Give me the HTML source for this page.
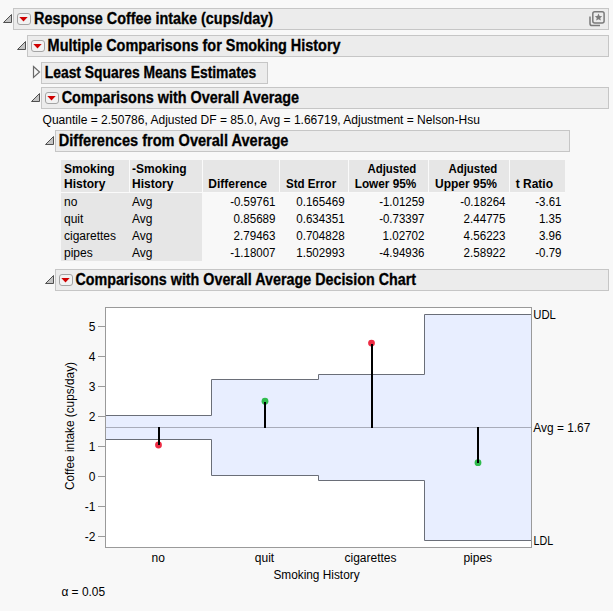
<!DOCTYPE html>
<html><head><meta charset="utf-8"><style>
html,body{margin:0;padding:0;background:#f8f8f8;width:613px;height:611px;overflow:hidden}
svg{display:block;font-family:"Liberation Sans", sans-serif}
</style></head><body>
<svg width="613" height="611" viewBox="0 0 613 611" >
<rect shape-rendering="crispEdges" x="0" y="0" width="613" height="611" fill="#f8f8f8"/>
<rect shape-rendering="crispEdges" x="13.5" y="8.5" width="595" height="21" fill="#ececec" stroke="#c6c6c6" stroke-width="1"/>
<path d="M3.5 22.5 L11.5 14.5 L11.5 22.5 Z" fill="#c4c4c4" stroke="#505050" stroke-width="1" stroke-linejoin="miter"/>
<rect rx="2.5" x="17.5" y="13.5" width="13" height="11" fill="#f2f2f2" stroke="#a4a4a4" stroke-width="1"/>
<path d="M19.3 16.9 L27.7 16.9 L23.5 21.4 Z" fill="#d00000"/>
<text x="34" y="23.6" font-size="15.6" font-weight="bold" stroke="#000" stroke-width="0.3" textLength="239" lengthAdjust="spacingAndGlyphs" fill="#000">Response Coffee intake (cups/day)</text>
<g fill="none" stroke="#7a7a7a" stroke-width="1.5"><rect rx="2" x="592.8" y="11.8" width="11.3" height="11.3"/><path d="M590 16.5 V23.5 Q590 25.6 592 25.6 H600"/></g>
<path d="M598.5 13.6 L599.6 16.1 L602.2 16.3 L600.2 18 L600.9 20.6 L598.5 19.2 L596.1 20.6 L596.8 18 L594.8 16.3 L597.4 16.1 Z" fill="#7a7a7a"/>
<rect shape-rendering="crispEdges" x="27.5" y="35.5" width="581" height="21" fill="#ececec" stroke="#c6c6c6" stroke-width="1"/>
<path d="M17.5 49.5 L25.5 41.5 L25.5 49.5 Z" fill="#c4c4c4" stroke="#505050" stroke-width="1" stroke-linejoin="miter"/>
<rect rx="2.5" x="31.5" y="40.5" width="13" height="11" fill="#f2f2f2" stroke="#a4a4a4" stroke-width="1"/>
<path d="M33.3 43.9 L41.7 43.9 L37.5 48.4 Z" fill="#d00000"/>
<text x="47.6" y="50.6" font-size="15.6" font-weight="bold" stroke="#000" stroke-width="0.3" textLength="293" lengthAdjust="spacingAndGlyphs" fill="#000">Multiple Comparisons for Smoking History</text>
<rect shape-rendering="crispEdges" x="41.5" y="62.5" width="226" height="21" fill="#ececec" stroke="#c6c6c6" stroke-width="1"/>
<path d="M33.5 66.5 L39.5 72 L33.5 77.5 Z" fill="none" stroke="#6a6a6a" stroke-width="1.2" stroke-linejoin="miter"/>
<text x="44.7" y="77.6" font-size="15.6" font-weight="bold" stroke="#000" stroke-width="0.3" textLength="211.6" lengthAdjust="spacingAndGlyphs" fill="#000">Least Squares Means Estimates</text>
<rect shape-rendering="crispEdges" x="41.5" y="87.5" width="567" height="21" fill="#ececec" stroke="#c6c6c6" stroke-width="1"/>
<path d="M31.5 101.5 L39.5 93.5 L39.5 101.5 Z" fill="#c4c4c4" stroke="#505050" stroke-width="1" stroke-linejoin="miter"/>
<rect rx="2.5" x="45.5" y="92.5" width="13" height="11" fill="#f2f2f2" stroke="#a4a4a4" stroke-width="1"/>
<path d="M47.3 95.9 L55.7 95.9 L51.5 100.4 Z" fill="#d00000"/>
<text x="61.7" y="102.6" font-size="15.6" font-weight="bold" stroke="#000" stroke-width="0.3" textLength="237.4" lengthAdjust="spacingAndGlyphs" fill="#000">Comparisons with Overall Average</text>
<text x="42.6" y="124" font-size="12" textLength="437.3" lengthAdjust="spacingAndGlyphs" fill="#000">Quantile = 2.50786, Adjusted DF = 85.0, Avg = 1.66719, Adjustment = Nelson-Hsu</text>
<rect shape-rendering="crispEdges" x="55.5" y="130.5" width="514" height="21" fill="#ececec" stroke="#c6c6c6" stroke-width="1"/>
<path d="M45.5 144.5 L53.5 136.5 L53.5 144.5 Z" fill="#c4c4c4" stroke="#505050" stroke-width="1" stroke-linejoin="miter"/>
<text x="58.8" y="145.8" font-size="15.6" font-weight="bold" stroke="#000" stroke-width="0.3" textLength="229.6" lengthAdjust="spacingAndGlyphs" fill="#000">Differences from Overall Average</text>
<rect shape-rendering="crispEdges" x="61" y="160" width="504" height="32" fill="#e6e6e6"/>
<rect shape-rendering="crispEdges" x="61" y="193" width="141" height="68" fill="#e6e6e6"/>
<rect shape-rendering="crispEdges" x="129" y="160" width="1" height="32" fill="#fafafa"/>
<rect shape-rendering="crispEdges" x="202" y="160" width="1" height="32" fill="#fafafa"/>
<rect shape-rendering="crispEdges" x="279" y="160" width="1" height="32" fill="#fafafa"/>
<rect shape-rendering="crispEdges" x="348" y="160" width="1" height="32" fill="#fafafa"/>
<rect shape-rendering="crispEdges" x="428" y="160" width="1" height="32" fill="#fafafa"/>
<rect shape-rendering="crispEdges" x="509" y="160" width="1" height="32" fill="#fafafa"/>
<rect shape-rendering="crispEdges" x="61" y="192" width="504" height="1" fill="#fafafa"/>
<text x="64" y="172.7" font-size="12" font-weight="bold" fill="#000">Smoking</text>
<text x="64" y="188.3" font-size="12" font-weight="bold" fill="#000">History</text>
<text x="132" y="172.7" font-size="12" font-weight="bold" fill="#000">-Smoking</text>
<text x="132" y="188.3" font-size="12" font-weight="bold" fill="#000">History</text>
<text x="267" y="188.3" font-size="12" font-weight="bold" text-anchor="end" fill="#000">Difference</text>
<text x="336.2" y="188.3" font-size="12" font-weight="bold" text-anchor="end" textLength="50.2" lengthAdjust="spacingAndGlyphs" fill="#000">Std Error</text>
<text x="416.3" y="172.7" font-size="12" font-weight="bold" text-anchor="end" textLength="48.8" lengthAdjust="spacingAndGlyphs" fill="#000">Adjusted</text>
<text x="416.3" y="188.3" font-size="12" font-weight="bold" text-anchor="end" textLength="61.6" lengthAdjust="spacingAndGlyphs" fill="#000">Lower 95%</text>
<text x="497.3" y="172.7" font-size="12" font-weight="bold" text-anchor="end" textLength="48.8" lengthAdjust="spacingAndGlyphs" fill="#000">Adjusted</text>
<text x="497" y="188.3" font-size="12" font-weight="bold" text-anchor="end" fill="#000">Upper 95%</text>
<text x="553" y="188.3" font-size="12" font-weight="bold" text-anchor="end" fill="#000">t Ratio</text>
<text x="64" y="205.8" font-size="12" fill="#000">no</text>
<text x="132" y="205.8" font-size="12" fill="#000">Avg</text>
<text x="275.5" y="205.8" font-size="12" text-anchor="end" textLength="45.37" lengthAdjust="spacingAndGlyphs" fill="#000">-0.59761</text>
<text x="344.6" y="205.8" font-size="12" text-anchor="end" textLength="48.38" lengthAdjust="spacingAndGlyphs" fill="#000">0.165469</text>
<text x="424.5" y="205.8" font-size="12" text-anchor="end" textLength="45.37" lengthAdjust="spacingAndGlyphs" fill="#000">-1.01259</text>
<text x="505.5" y="205.8" font-size="12" text-anchor="end" textLength="45.37" lengthAdjust="spacingAndGlyphs" fill="#000">-0.18264</text>
<text x="561.5" y="205.8" font-size="12" text-anchor="end" textLength="26.2" lengthAdjust="spacingAndGlyphs" fill="#000">-3.61</text>
<text x="64" y="222.75" font-size="12" fill="#000">quit</text>
<text x="132" y="222.75" font-size="12" fill="#000">Avg</text>
<text x="275.5" y="222.75" font-size="12" text-anchor="end" textLength="41.93" lengthAdjust="spacingAndGlyphs" fill="#000">0.85689</text>
<text x="344.6" y="222.75" font-size="12" text-anchor="end" textLength="48.38" lengthAdjust="spacingAndGlyphs" fill="#000">0.634351</text>
<text x="424.5" y="222.75" font-size="12" text-anchor="end" textLength="45.37" lengthAdjust="spacingAndGlyphs" fill="#000">-0.73397</text>
<text x="505.5" y="222.75" font-size="12" text-anchor="end" textLength="41.93" lengthAdjust="spacingAndGlyphs" fill="#000">2.44775</text>
<text x="561.5" y="222.75" font-size="12" text-anchor="end" textLength="22.57" lengthAdjust="spacingAndGlyphs" fill="#000">1.35</text>
<text x="64" y="239.7" font-size="12" fill="#000">cigarettes</text>
<text x="132" y="239.7" font-size="12" fill="#000">Avg</text>
<text x="275.5" y="239.7" font-size="12" text-anchor="end" textLength="41.93" lengthAdjust="spacingAndGlyphs" fill="#000">2.79463</text>
<text x="344.6" y="239.7" font-size="12" text-anchor="end" textLength="48.38" lengthAdjust="spacingAndGlyphs" fill="#000">0.704828</text>
<text x="424.5" y="239.7" font-size="12" text-anchor="end" textLength="41.93" lengthAdjust="spacingAndGlyphs" fill="#000">1.02702</text>
<text x="505.5" y="239.7" font-size="12" text-anchor="end" textLength="41.93" lengthAdjust="spacingAndGlyphs" fill="#000">4.56223</text>
<text x="561.5" y="239.7" font-size="12" text-anchor="end" textLength="22.57" lengthAdjust="spacingAndGlyphs" fill="#000">3.96</text>
<text x="64" y="256.65" font-size="12" fill="#000">pipes</text>
<text x="132" y="256.65" font-size="12" fill="#000">Avg</text>
<text x="275.5" y="256.65" font-size="12" text-anchor="end" textLength="45.37" lengthAdjust="spacingAndGlyphs" fill="#000">-1.18007</text>
<text x="344.6" y="256.65" font-size="12" text-anchor="end" textLength="48.38" lengthAdjust="spacingAndGlyphs" fill="#000">1.502993</text>
<text x="424.5" y="256.65" font-size="12" text-anchor="end" textLength="45.37" lengthAdjust="spacingAndGlyphs" fill="#000">-4.94936</text>
<text x="505.5" y="256.65" font-size="12" text-anchor="end" textLength="41.93" lengthAdjust="spacingAndGlyphs" fill="#000">2.58922</text>
<text x="561.5" y="256.65" font-size="12" text-anchor="end" textLength="26.2" lengthAdjust="spacingAndGlyphs" fill="#000">-0.79</text>
<rect shape-rendering="crispEdges" x="55.5" y="269.5" width="553" height="21" fill="#ececec" stroke="#c6c6c6" stroke-width="1"/>
<path d="M45.5 283.5 L53.5 275.5 L53.5 283.5 Z" fill="#c4c4c4" stroke="#505050" stroke-width="1" stroke-linejoin="miter"/>
<rect rx="2.5" x="59.5" y="274.5" width="13" height="11" fill="#f2f2f2" stroke="#a4a4a4" stroke-width="1"/>
<path d="M61.3 277.9 L69.7 277.9 L65.5 282.4 Z" fill="#d00000"/>
<text x="75.4" y="284.6" font-size="15.6" font-weight="bold" stroke="#000" stroke-width="0.3" textLength="340.7" lengthAdjust="spacingAndGlyphs" fill="#000">Comparisons with Overall Average Decision Chart</text>
<rect shape-rendering="crispEdges" x="105.5" y="307.5" width="426" height="240" fill="#ffffff" stroke="#9a9a9a" stroke-width="1"/>
<rect shape-rendering="crispEdges" x="105.5" y="415.5" width="106.0" height="24" fill="#e8eeff"/>
<rect shape-rendering="crispEdges" x="211.5" y="379.5" width="107.0" height="96" fill="#e8eeff"/>
<rect shape-rendering="crispEdges" x="318.5" y="374.5" width="106.0" height="106" fill="#e8eeff"/>
<rect shape-rendering="crispEdges" x="424.5" y="314.5" width="106.5" height="226" fill="#e8eeff"/>
<path d="M105.5 415.5 H211.5 V379.5 H318.5 V374.5 H424.5 V314.5 H531" fill="none" stroke="#6a6e78" stroke-width="1"/>
<path d="M105.5 439.5 H211.5 V475.5 H318.5 V480.5 H424.5 V540.5 H531" fill="none" stroke="#6a6e78" stroke-width="1"/>
<rect shape-rendering="crispEdges" x="106" y="427" width="425" height="1" fill="#a8acba"/>
<rect shape-rendering="crispEdges" x="105.5" y="307.5" width="426" height="240" fill="none" stroke="#9a9a9a" stroke-width="1"/>
<rect shape-rendering="crispEdges" x="98" y="536" width="7" height="1" fill="#9a9a9a"/>
<text x="95.5" y="540.6" font-size="12" text-anchor="end" fill="#000">-2</text>
<rect shape-rendering="crispEdges" x="98" y="506" width="7" height="1" fill="#9a9a9a"/>
<text x="95.5" y="510.6" font-size="12" text-anchor="end" fill="#000">-1</text>
<rect shape-rendering="crispEdges" x="98" y="476" width="7" height="1" fill="#9a9a9a"/>
<text x="95.5" y="480.6" font-size="12" text-anchor="end" fill="#000">0</text>
<rect shape-rendering="crispEdges" x="98" y="446" width="7" height="1" fill="#9a9a9a"/>
<text x="95.5" y="450.6" font-size="12" text-anchor="end" fill="#000">1</text>
<rect shape-rendering="crispEdges" x="98" y="416" width="7" height="1" fill="#9a9a9a"/>
<text x="95.5" y="420.6" font-size="12" text-anchor="end" fill="#000">2</text>
<rect shape-rendering="crispEdges" x="98" y="386" width="7" height="1" fill="#9a9a9a"/>
<text x="95.5" y="390.6" font-size="12" text-anchor="end" fill="#000">3</text>
<rect shape-rendering="crispEdges" x="98" y="356" width="7" height="1" fill="#9a9a9a"/>
<text x="95.5" y="360.6" font-size="12" text-anchor="end" fill="#000">4</text>
<rect shape-rendering="crispEdges" x="98" y="326" width="7" height="1" fill="#9a9a9a"/>
<text x="95.5" y="330.6" font-size="12" text-anchor="end" fill="#000">5</text>
<circle cx="158.5" cy="445" r="3.4" fill="#ee2c44"/>
<rect shape-rendering="crispEdges" x="157.5" y="427" width="2" height="18" fill="#000"/>
<circle cx="265" cy="401.2" r="3.4" fill="#30bc4e"/>
<rect shape-rendering="crispEdges" x="264" y="402" width="2" height="26" fill="#000"/>
<circle cx="371.5" cy="343.1" r="3.4" fill="#ee2c44"/>
<rect shape-rendering="crispEdges" x="370.5" y="344" width="2" height="84" fill="#000"/>
<circle cx="478" cy="462.7" r="3.4" fill="#30bc4e"/>
<rect shape-rendering="crispEdges" x="477" y="427" width="2" height="36" fill="#000"/>
<text x="533.3" y="319" font-size="12" textLength="22.6" lengthAdjust="spacingAndGlyphs" fill="#000">UDL</text>
<text x="533.3" y="431.5" font-size="12" textLength="57" lengthAdjust="spacingAndGlyphs" fill="#000">Avg = 1.67</text>
<text x="533.6" y="545.2" font-size="12" textLength="19.6" lengthAdjust="spacingAndGlyphs" fill="#000">LDL</text>
<text x="158.25" y="562" font-size="12" text-anchor="middle" fill="#000">no</text>
<text x="264.5" y="562" font-size="12" text-anchor="middle" fill="#000">quit</text>
<text x="370.5" y="562" font-size="12" text-anchor="middle" fill="#000">cigarettes</text>
<text x="477.75" y="562" font-size="12" text-anchor="middle" fill="#000">pipes</text>
<text x="273.4" y="578.8" font-size="12" textLength="86.2" lengthAdjust="spacingAndGlyphs" fill="#000">Smoking History</text>
<text x="0" y="0" font-size="12" transform="translate(74 490) rotate(-90)" textLength="128" lengthAdjust="spacingAndGlyphs" fill="#000">Coffee intake (cups/day)</text>
<text x="61.4" y="595.7" font-size="12" textLength="43.7" lengthAdjust="spacingAndGlyphs" fill="#000">α = 0.05</text>
</svg>
</body></html>
